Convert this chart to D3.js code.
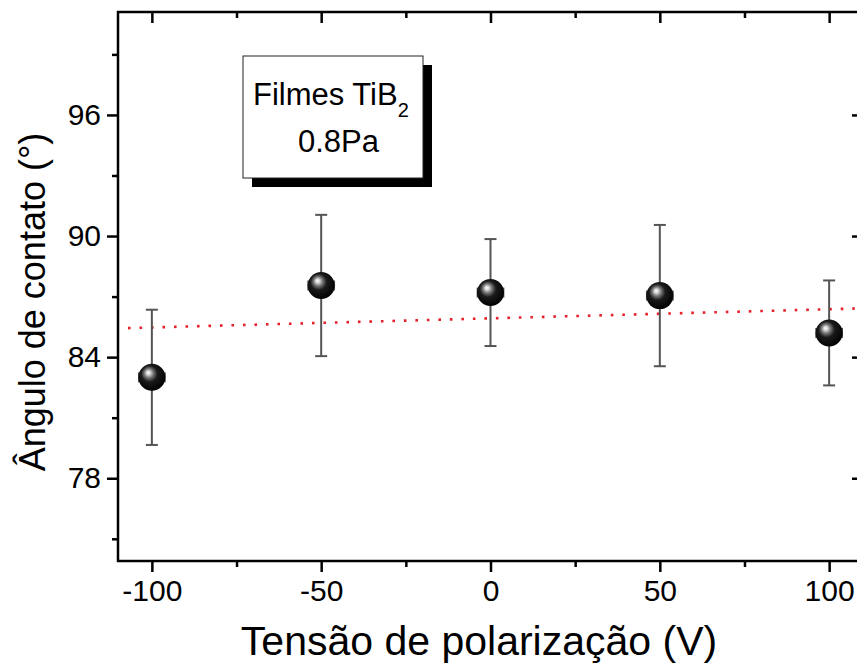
<!DOCTYPE html>
<html lang="pt">
<head>
  <meta charset="UTF-8">
  <title>Ângulo de contato vs tensão de polarização</title>
  <script src="https://d3js.org/d3.v7.min.js"></script>
  <style>
    body {
      margin: 0;
      padding: 0;
      background: #ffffff;
      overflow: hidden;
    }
    svg {
      display: block;
      font-family: "Liberation Sans", Arial, sans-serif;
    }
  </style>
</head>
<body>
  <svg id="chart" width="857" height="666"></svg>

  <script>
    // dados
    const tensao = [-100, -50, 0, 50, 100];
    const angulo = [83.0, 87.55, 87.2, 87.05, 85.2];
    const erroY = [3.35, 3.5, 2.65, 3.5, 2.6];
    const erroX = [3.8, 3.8, 3.8, 3.8, 3.8];

    // ajuste linear (linha pontilhada vermelha)
    const ajusteX = [-110, 110];
    const ajusteY = [85.44, 86.42];

    const xTicks = [-100, -50, 0, 50, 100];
    const xMinor = [-75, -25, 25, 75];
    const yTicks = [78, 84, 90, 96];
    const yMinor = [75, 81, 87, 93, 99];

    const svg = d3.select("#chart");
    const mLeft = 118, mTop = 12, mRight = 863, mBottom = 561;

    const x = d3.scaleLinear().domain([-110, 110]).range([mLeft, mRight]);
    const y = d3.scaleLinear().domain([73.9, 101.1]).range([mBottom, mTop]);

    // gradiente da esfera
    const defs = svg.append("defs");
    const grad = defs.append("radialGradient")
      .attr("id", "bola")
      .attr("cx", "0.45").attr("cy", "0.42").attr("r", "0.6")
      .attr("fx", "0.36").attr("fy", "0.32");
    grad.append("stop").attr("offset", "0%").attr("stop-color", "#ffffff");
    grad.append("stop").attr("offset", "12%").attr("stop-color", "#d8d8d8");
    grad.append("stop").attr("offset", "28%").attr("stop-color", "#777");
    grad.append("stop").attr("offset", "50%").attr("stop-color", "#1a1a1a");
    grad.append("stop").attr("offset", "100%").attr("stop-color", "#000");

    // eixos
    const axisStyle = g => {
      g.select(".domain").remove();
      g.selectAll("line").attr("stroke", "#000").attr("stroke-width", 2.5);
    };
    const labelStyle = g => g.selectAll("text")
      .attr("font-size", 30).attr("fill", "#000")
      .attr("font-family", "Liberation Sans, Arial, sans-serif");

    svg.append("g")
      .attr("transform", `translate(0,${mBottom})`)
      .call(d3.axisBottom(x).tickValues(xTicks).tickSize(11).tickPadding(8).tickFormat(d => String(d)))
      .call(axisStyle)
      .call(labelStyle);
    svg.append("g")
      .attr("transform", `translate(0,${mBottom})`)
      .call(d3.axisBottom(x).tickValues(xMinor).tickSize(6).tickFormat(""))
      .call(axisStyle);

    svg.append("g")
      .attr("transform", `translate(${mLeft},0)`)
      .call(d3.axisLeft(y).tickValues(yTicks).tickSize(11).tickPadding(6).tickFormat(d => String(d)))
      .call(axisStyle)
      .call(labelStyle);
    svg.append("g")
      .attr("transform", `translate(${mLeft},0)`)
      .call(d3.axisLeft(y).tickValues(yMinor).tickSize(6).tickFormat(""))
      .call(axisStyle);

    // topo e direita: marcas para dentro
    svg.append("g")
      .attr("transform", `translate(0,${mTop})`)
      .call(d3.axisBottom(x).tickValues(xTicks).tickSize(11).tickFormat(""))
      .call(axisStyle);
    svg.append("g")
      .attr("transform", `translate(0,${mTop})`)
      .call(d3.axisBottom(x).tickValues(xMinor).tickSize(6).tickFormat(""))
      .call(axisStyle);
    svg.append("g")
      .attr("transform", `translate(${mRight},0)`)
      .call(d3.axisLeft(y).tickValues(yTicks).tickSize(11).tickFormat(""))
      .call(axisStyle);
    svg.append("g")
      .attr("transform", `translate(${mRight},0)`)
      .call(d3.axisLeft(y).tickValues(yMinor).tickSize(6).tickFormat(""))
      .call(axisStyle);

    svg.append("rect")
      .attr("x", mLeft).attr("y", mTop)
      .attr("width", mRight - mLeft).attr("height", mBottom - mTop)
      .attr("fill", "none").attr("stroke", "#000").attr("stroke-width", 2.5);

    // linha de ajuste
    svg.append("line")
      .attr("x1", x(ajusteX[0]) + 10).attr("y1", y(ajusteY[0]))
      .attr("x2", x(ajusteX[1])).attr("y2", y(ajusteY[1]))
      .attr("stroke", "#e8202a")
      .attr("stroke-width", 2.6)
      .attr("stroke-dasharray", "2.6 8.9");

    const pontos = tensao.map((t, i) => ({ t, a: angulo[i], ey: erroY[i], ex: erroX[i] }));

    // barras de erro
    const barras = svg.append("g").attr("stroke", "#555").attr("stroke-width", 2);
    barras.selectAll("line.v").data(pontos).enter().append("line")
      .attr("x1", d => x(d.t)).attr("x2", d => x(d.t))
      .attr("y1", d => y(d.a + d.ey)).attr("y2", d => y(d.a - d.ey));
    barras.selectAll("line.top").data(pontos).enter().append("line")
      .attr("x1", d => x(d.t) - 6).attr("x2", d => x(d.t) + 6)
      .attr("y1", d => y(d.a + d.ey)).attr("y2", d => y(d.a + d.ey));
    barras.selectAll("line.bot").data(pontos).enter().append("line")
      .attr("x1", d => x(d.t) - 6).attr("x2", d => x(d.t) + 6)
      .attr("y1", d => y(d.a - d.ey)).attr("y2", d => y(d.a - d.ey));
    // erro horizontal (pequeno)
    barras.selectAll("line.xl").data(pontos).enter().append("line")
      .attr("x1", d => x(d.t - d.ex)).attr("x2", d => x(d.t - d.ex))
      .attr("y1", d => y(d.a) - 5).attr("y2", d => y(d.a) + 5);
    barras.selectAll("line.xr").data(pontos).enter().append("line")
      .attr("x1", d => x(d.t + d.ex)).attr("x2", d => x(d.t + d.ex))
      .attr("y1", d => y(d.a) - 5).attr("y2", d => y(d.a) + 5);

    // esferas
    svg.selectAll("circle.pt").data(pontos).enter().append("circle")
      .attr("class", "pt")
      .attr("cx", d => x(d.t)).attr("cy", d => y(d.a))
      .attr("r", 13.5)
      .attr("fill", "url(#bola)");

    // legenda
    const leg = svg.append("g");
    leg.append("rect")
      .attr("x", 252).attr("y", 65).attr("width", 180).attr("height", 122)
      .attr("fill", "#000");
    leg.append("rect")
      .attr("x", 243).attr("y", 56).attr("width", 180).attr("height", 122)
      .attr("fill", "#fff").attr("stroke", "#222").attr("stroke-width", 1);
    const t1 = leg.append("text")
      .attr("x", 253).attr("y", 105)
      .attr("font-size", 31).attr("fill", "#000");
    t1.append("tspan").text("Filmes TiB");
    t1.append("tspan").attr("dy", 12).attr("font-size", 20).text("2");
    leg.append("text")
      .attr("x", 298).attr("y", 152)
      .attr("font-size", 31).attr("fill", "#000")
      .text("0.8Pa");

    // títulos dos eixos
    svg.append("text")
      .attr("x", 479).attr("y", 655)
      .attr("text-anchor", "middle")
      .attr("font-size", 41).attr("fill", "#000")
      .text("Tensão de polarização (V)");
    svg.append("text")
      .attr("transform", "translate(45,302) rotate(-90)")
      .attr("text-anchor", "middle")
      .attr("font-size", 36).attr("fill", "#000")
      .text("Ângulo de contato (°)");
  </script>
</body>
</html>
